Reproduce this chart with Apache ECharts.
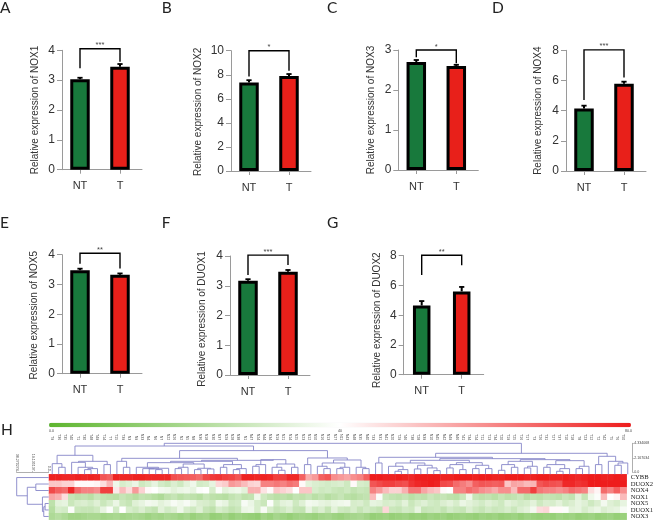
<!DOCTYPE html>
<html><head><meta charset="utf-8">
<style>html,body{margin:0;padding:0;background:#fff}#c{width:656px;height:522px}</style>
<script src="https://cdn.jsdelivr.net/npm/echarts@6/dist/echarts.min.js"></script></head>
<body><div id="c"></div>
<script>
const groups = ['NT', 'T'];
const genes = ['NOX1', 'NOX2', 'NOX3', 'NOX4', 'NOX5', 'DUOX1', 'DUOX2'];
const letters = ['A', 'B', 'C', 'D', 'E', 'F', 'G'];
const meansNT = [3.03, 7.35, 2.70, 4.15, 3.48, 3.17, 4.65];
const meansT = [3.45, 7.90, 2.60, 5.78, 3.33, 3.47, 5.60];
const errNT = [0.05, 0.2, 0.05, 0.18, 0.05, 0.05, 0.3];
const errT = [0.09, 0.16, 0.03, 0.14, 0.04, 0.06, 0.3];
const axisMax = [4, 10, 3, 8, 4, 4, 8];
const axisStep = [1, 2, 1, 2, 1, 1, 2];
const stars = ['***', '*', '*', '***', '**', '***', '**'];
const bracketTop = [4.05, 10, 3, 8.03, 4.05, 4.03, 8.03];
const bracketLeftEnd = [3.4, 7.86, 2.82, 4.7, 3.7, 3.36, 6.7];
const bracketRightEnd = [3.62, 8.33, 2.67, 6.2, 3.54, 3.7, 7.35];

const rowNames = ['CYBB', 'DUOX2', 'NOX4', 'NOX1', 'NOX5', 'DUOX1', 'NOX3'];
const sampleNames = ['T9','T36','T35','T40','T1','T30','T48','T49','T14','T7','T15','T39','N3','N9','N33','N4','N6','N7','N22','N26','N2','N5','N8','N36','N18','N30','N37','N29','N28','N38','N1','N47','N24','N44','N34','N19','N21','N14','N25','N23','N12','N50','N16','N13','N27','N11','N43','N48','N35','N40','T33','N31','N41','N20','T29','T46','T38','T28','N39','N10','N45','N42','N49','N46','T41','T34','T24','T11','T13','T34','T20','T19','T25','T16','T17','T3','T26','T31','T27','T37','T10','T18','T8','T23','T12','T2','T42','T5','T6','T50'];
const rowCYBB = [79,79,78,78,79,78,79,78,70,68,79,78,78,79,79,78,78,78,78,71,70,69,68,66,72,75,76,74,73,70,79,79,78,79,78,74,74,78,78,68,55,58,68,70,60,58,56,60,62,68,80,80,79,79,80,79,78,80,80,80,80,79,79,80,80,80,79,80,80,79,79,80,80,80,79,79,80,80,79,79,80,79,78,79,80,80,79,79,80,79];
const rowDUOX2 = [50,50,48,48,41,41,41,42,46,53,36,30,32,35,28,30,34,29,27,31,28,33,36,29,30,34,47,49,58,56,52,48,47,62,62,64,62,65,63,41,33,31,30,29,30,31,28,41,30,29,70,72,74,74,72,71,76,78,79,80,79,72,71,66,63,60,68,70,69,68,69,50,56,55,52,53,70,72,71,70,78,78,76,77,80,80,80,80,80,80];
const rowNOX4 = [72,68,66,78,66,62,62,60,74,74,44,52,46,58,48,41,40,37,36,33,35,36,34,39,40,30,39,33,35,36,33,54,54,45,41,50,48,46,40,50,50,30,28,29,27,26,28,25,27,26,62,58,52,48,48,54,64,64,56,52,50,41,40,62,62,66,64,60,58,55,60,60,52,66,66,74,64,62,62,60,62,66,64,62,46,42,66,62,68,60];
const rowNOX1 = [56,54,46,26,24,25,23,27,25,24,23,26,24,22,25,24,22,20,24,26,23,25,24,22,26,24,23,22,25,27,24,25,36,28,25,23,24,22,25,24,26,23,25,22,24,26,23,22,24,25,52,39,27,25,24,26,23,25,24,27,25,26,24,23,27,36,26,24,25,23,26,24,25,27,23,25,24,26,25,24,27,25,33,26,36,39,52,40,42,52];
const rowNOX5 = [24,33,34,27,30,31,29,32,27,30,35,28,26,32,34,37,36,33,35,38,36,38,35,31,30,28,36,34,28,29,38,35,30,27,39,29,33,34,28,32,37,36,34,33,35,36,37,30,31,28,34,33,30,31,29,33,27,30,32,29,28,31,33,30,35,33,31,29,32,30,28,33,31,29,30,33,28,31,30,33,29,31,34,32,28,31,37,32,30,34];
const rowDUOX1 = [22,30,29,39,27,26,26,28,34,39,29,40,30,28,31,27,25,33,29,31,36,30,28,32,26,24,30,28,25,27,35,36,30,38,30,26,28,31,26,25,34,28,31,26,33,28,27,30,26,29,27,25,47,27,26,29,28,34,26,27,28,25,29,27,26,31,28,26,29,27,28,30,27,31,33,37,46,47,41,41,39,33,34,30,33,35,31,33,34,38];
const rowNOX3 = [20,22,20,17,17,18,19,19,17,18,19,17,18,19,18,16,18,17,19,18,16,18,15,17,18,14,15,17,14,16,15,14,13,17,15,18,16,14,16,17,16,15,17,18,16,15,17,18,19,17,14,15,16,14,15,16,14,15,14,16,15,16,14,15,16,15,14,16,15,16,14,15,16,14,16,15,14,15,14,16,15,16,14,15,16,14,15,16,14,15];

// dendrograms: [height, leftChild, rightChild]; a bare number is a leaf index
const treeSamples1 = [2.54, [1.29, 0, [.75, 1, 2]], [1.64, [1.49, 3, [.75, 4, [.55, [.4, 5, 6], 7]]], [1.15, 8, 9]]];
const treeSamples2 = [1.79, [1.64, [1.44, [.75, 13, [.6, [.55, 14, [.5, 15, [.4, 16, 17]]], 18]], [1.24, [.75, [.55, 19, 20], 21], [.6, [.4, 22, 23], [.5, 24, 25]]]], [1.15, [.75, 26, 27], [.55, [.4, 28, 29], 30]]], [1.89, [1.15, [.9, 31, 32], 33], [1.24, [.75, 34, [.3, 35, 36]], [.75, 37, 38]]]];
const treeSamples3 = [1.84, [1.39, [.9, 41, [.55, 42, 43]], [.75, [.55, 44, 45], 46]], [.75, 47, [.55, 48, 49]]];
const treeSamples4 = [2.24, [1.39, 50, 51], [2.04, [1.79, [1.39, [.9, 52, [.4, [.15, 53, 54], 55]], [1.05, [.5, 56, 57], [.65, 58, [.25, 59, 60]]]], [1.44, [1.15, [.65, 61, 62], [.4, 63, 64]], [1.05, [.55, 65, 66], [.55, 67, 68]]]], [1.89, [1.64, [1.15, [.3, 69, 70], [.75, 71, 72]], [.9, [.65, 73, 74], 75]], [1.74, [1.15, [.75, 76, 77], [.55, [.15, 78, 79], 80]], [.9, [.55, 81, 82], 83]]]]];
const treeSamples5 = [2.39, [1.15, 84, 85], [1.64, 86, [1.39, [1.05, 87, 88], 89]]];
const treeSamples = [4.33, [3.93, treeSamples1, [3.24, [2.09, [1.64, 10, [.75, 11, 12]], treeSamples2], [2.14, [1.15, 39, 40], treeSamples3]]], [2.84, treeSamples4, treeSamples5]];
const treeRows = [38.27, 0, [25.6, [15.4, 1, 2], [7.5, 3, [5.9, [4.3, 4, 5], 6]]]];

// ---------- layout ----------
const panels = [
 {l:62,   t:50.3,  b:169.7, lx:6,   ly:8,   gap:22, shift:0, bar:19.5},
 {l:231,  t:50.7,  b:171,   lx:167.7,ly:8,  gap:28, shift:1, bar:19.5},
 {l:398.3,t:50,    b:170,   lx:333, ly:8,   gap:22, shift:0, bar:19.5},
 {l:566,  t:50.3,  b:171,   lx:498, ly:8,   gap:22.5, shift:0, bar:19.5},
 {l:62,   t:254.7, b:373.7, lx:6,   ly:223, gap:22.5,shift:1, bar:19.5},
 {l:230,  t:256,   b:375,   lx:167.7,ly:223,gap:22.5,shift:3.5,bar:19.5},
 {l:403.7,t:255.7, b:374.7, lx:333, ly:223, gap:21, shift:5, bar:17.5}
];
const GREY = '#9a9a9a', INK = '#333', DENDRO = '#8686c8';
const grid = [], xAxis = [], yAxis = [], series = [], graphic = [];

genes.forEach((g, i) => {
  const p = panels[i];
  grid.push({left:p.l, top:p.t, width:80, height:p.b - p.t});
  xAxis.push({gridIndex:i, type:'value', min:-0.45, max:1.55, splitLine:{show:false},
    axisLine:{onZero:true, lineStyle:{color:GREY, width:1}},
    axisTick:{length:4, lineStyle:{color:GREY}, customValues:[0,1]},
    axisLabel:{customValues:[0,1], formatter:v => groups[v], color:INK, fontSize:11, margin:11, fontFamily:'Liberation Sans'}});
  yAxis.push({gridIndex:i, type:'value', min:0, max:axisMax[i], interval:axisStep[i], splitLine:{show:false},
    name:'Relative expression of ' + g, nameLocation:'middle', nameGap:p.gap, nameRotate:90,
    nameTextStyle:{color:INK, fontSize:10, fontFamily:'Liberation Sans', padding:[0, p.shift * 2, 0, 0]},
    axisLine:{show:true, onZero:false, lineStyle:{color:GREY, width:1}},
    axisTick:{show:true, length:5, lineStyle:{color:GREY}},
    axisLabel:{color:INK, fontSize:12, margin:7, fontFamily:'Liberation Sans'}});
  series.push({type:'bar', xAxisIndex:i, yAxisIndex:i, barWidth:p.bar, silent:true,
    data:[{value:[0, meansNT[i]], itemStyle:{color:'#18793c', borderColor:'#000', borderWidth:3}},
          {value:[1, meansT[i]],  itemStyle:{color:'#e8201a', borderColor:'#000', borderWidth:3}}]});
  // error bars
  series.push({type:'custom', xAxisIndex:i, yAxisIndex:i, silent:true, clip:false,
    data:[[0, meansNT[i], errNT[i]], [1, meansT[i], errT[i]]],
    renderItem:(ps, api) => {
      const a = api.coord([api.value(0), api.value(1)]), b = api.coord([api.value(0), api.value(1) + api.value(2)]);
      return {type:'group', children:[
        {type:'line', shape:{x1:a[0], y1:a[1], x2:b[0], y2:b[1]}, style:{stroke:'#000', lineWidth:2}},
        {type:'line', shape:{x1:a[0]-2.6, y1:b[1], x2:a[0]+2.6, y2:b[1]}, style:{stroke:'#000', lineWidth:1.8}}]};
    }});
  // significance bracket
  series.push({type:'custom', xAxisIndex:i, yAxisIndex:i, silent:true, clip:false,
    data:[[bracketTop[i], bracketLeftEnd[i], bracketRightEnd[i]]],
    renderItem:(ps, api) => {
      const t = api.value(0), a = api.coord([0, api.value(1)]), b = api.coord([0, t]), c = api.coord([1, t]), d = api.coord([1, api.value(2)]);
      return {type:'group', children:[
        {type:'polyline', shape:{points:[a, b, c, d]}, style:{stroke:'#000', fill:null, lineWidth:1.4}},
        {type:'text', style:{x:(b[0]+c[0])/2, y:b[1]-3.5, text:stars[i], fill:'#444', fontSize:7.5, align:'center', verticalAlign:'middle', fontFamily:'Liberation Sans'}}]};
    }});
  graphic.push({type:'text', left:p.lx - 6, top:p.ly - 8, style:{text:letters[i], fill:'#222', fontSize:15.5, fontFamily:'Lato'}});
});
graphic.push({type:'text', left:1, top:422, style:{text:'H', fill:'#222', fontSize:15.5, fontFamily:'Lato'}});

// ---------- heatmap ----------
const HM = grid.length;
grid.push({left:49, top:474.3, width:582, height:45.4});
xAxis.push({gridIndex:HM, type:'category', data:sampleNames, position:'top', offset:33,
  axisLine:{show:false}, axisTick:{show:false}, splitLine:{show:false},
  axisLabel:{interval:0, rotate:90, fontSize:3.6, margin:1, color:'#444', fontFamily:'Liberation Sans'}});
yAxis.push({gridIndex:HM, type:'category', data:rowNames, inverse:true, position:'right',
  axisLine:{show:false}, axisTick:{show:false}, splitLine:{show:false},
  axisLabel:{interval:0, fontSize:6.6, margin:4, color:'#222', fontFamily:'Liberation Serif'}});
const rows = [rowCYBB, rowDUOX2, rowNOX4, rowNOX1, rowNOX5, rowDUOX1, rowNOX3];
const cells = [];
rows.forEach((r, y) => r.forEach((v, x) => cells.push([x, y, v])));
const heatIndex = series.length;
series.push({type:'heatmap', xAxisIndex:HM, yAxisIndex:HM, data:cells, silent:true, progressive:0, itemStyle:{borderWidth:0}});

// ---------- dendrograms ----------
function flatten(node, out) {
  if (typeof node === 'number') return {p:node, h:0};
  const a = flatten(node[1], out), b = flatten(node[2], out);
  out.push([a.p, b.p, node[0], a.h, b.h]);
  return {p:(a.p + b.p) / 2, h:node[0]};
}
const linksTop = [], linksLeft = [];
flatten(treeSamples, linksTop); flatten(treeRows, linksLeft);

const DT = grid.length;
grid.push({left:49, top:443.3, width:582, height:29});
xAxis.push({gridIndex:DT, type:'value', min:-0.5, max:89.5, show:false});
yAxis.push({gridIndex:DT, type:'value', min:0, max:4.334068, interval:2.167034, position:'right', offset:1.7, splitLine:{show:false},
  axisLine:{show:true, onZero:false, lineStyle:{color:GREY, width:0.8}}, axisTick:{show:true, length:1.5, lineStyle:{color:GREY, width:.6}},
  axisLabel:{fontSize:3.6, margin:1.5, color:'#444', formatter:v => v === 0 ? '0.0' : v.toFixed(6)}});
series.push({type:'custom', xAxisIndex:DT, yAxisIndex:DT, silent:true, clip:false, data:linksTop,
  renderItem:(ps, api) => {
    const base = v => v === 0 ? -0.3 : v, h = api.value(2);
    return {type:'polyline', shape:{points:[
      api.coord([api.value(0), base(api.value(3))]), api.coord([api.value(0), h]),
      api.coord([api.value(1), h]), api.coord([api.value(1), base(api.value(4))])]},
      style:{stroke:DENDRO, fill:null, lineWidth:0.9}};
  }});

const DL = grid.length;
grid.push({left:16.7, top:474.3, width:32, height:45.4});
xAxis.push({gridIndex:DL, type:'value', inverse:true, min:0, max:38.270274, interval:19.135137, position:'top', offset:2, splitLine:{show:false},
  axisLine:{show:true, onZero:false, lineStyle:{color:GREY, width:0.8}}, axisTick:{show:true, length:1.5, lineStyle:{color:GREY, width:.6}},
  axisLabel:{rotate:90, fontSize:3.6, margin:1.5, color:'#444', formatter:v => v === 0 ? '0.0' : v.toFixed(6)}});
yAxis.push({gridIndex:DL, type:'value', inverse:true, min:-0.5, max:6.5, show:false});
series.push({type:'custom', xAxisIndex:DL, yAxisIndex:DL, silent:true, clip:false, data:linksLeft,
  renderItem:(ps, api) => {
    const h = api.value(2);
    return {type:'polyline', shape:{points:[
      api.coord([api.value(3), api.value(0)]), api.coord([h, api.value(0)]),
      api.coord([h, api.value(1)]), api.coord([api.value(4), api.value(1)])]},
      style:{stroke:DENDRO, fill:null, lineWidth:0.9}};
  }});

[['0.0', 49], ['40', 338], ['80.0', 625]].forEach(t => graphic.push({type:'text', left:t[1], top:428.5,
  style:{text:t[0], fontSize:3.6, fill:'#444', fontFamily:'Liberation Sans'}}));

const chart = echarts.init(document.getElementById('c'), null, {renderer:'canvas'});
chart.setOption({
  animation:false, backgroundColor:'#fff', grid, xAxis, yAxis, series, graphic,
  visualMap:{type:'continuous', seriesIndex:heatIndex, min:0, max:80, show:true, orient:'horizontal',
    left:49, top:422.7, padding:0, itemWidth:4.6, itemHeight:582, text:['',''], textGap:0, calculable:false, hoverLink:false, realtime:false,
    inRange:{color:['#5db52e','#ffffff','#ee1c1c']}}
});
</script></body></html>
